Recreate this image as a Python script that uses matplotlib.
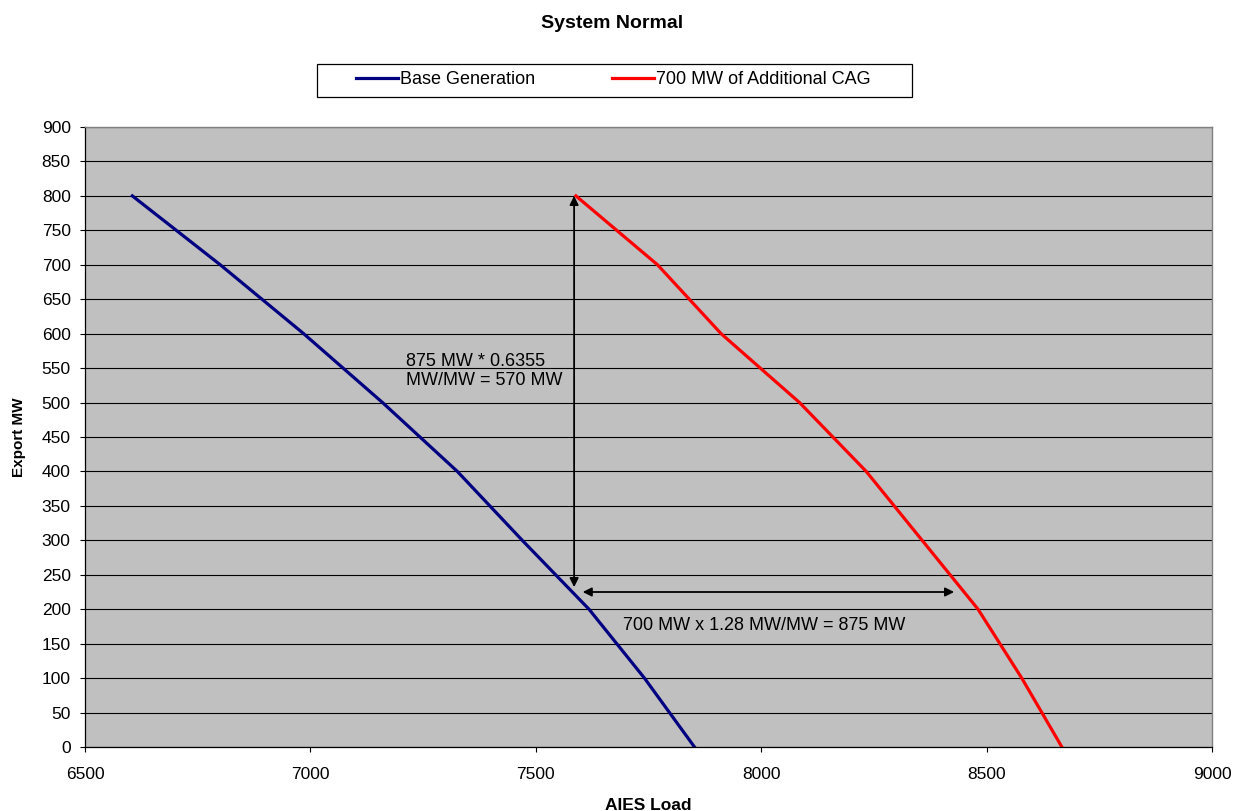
import matplotlib
matplotlib.use("Agg")
import matplotlib.pyplot as plt
from matplotlib.patches import Rectangle

# Data
base_load = [6605, 6800, 6985, 7160, 7326, 7470, 7618, 7741, 7852]
base_export = [800, 700, 600, 500, 400, 300, 200, 100, 0]
cag_load = [7589, 7770, 7911, 8085, 8233, 8357, 8481, 8578, 8667]
cag_export = [800, 700, 600, 500, 400, 300, 200, 100, 0]
series_names = ["Base Generation", "700 MW of Additional CAG"]
title = "System Normal"
xlabel = "AIES Load"
ylabel = "Export MW"
vert_arrow = (7585, 800, 232)      # x, y_top, y_bottom
horiz_arrow = (225, 7604, 8428)    # y, x_left, x_right
note1 = "875 MW * 0.6355\nMW/MW = 570 MW"
note2 = "700 MW x 1.28 MW/MW = 875 MW"

plt.rcParams['font.family'] = ['Liberation Sans', 'DejaVu Sans']

W, H = 1234, 811
fig = plt.figure(figsize=(W / 100, H / 100), dpi=100)
fig.patch.set_facecolor('white')
ax = fig.add_axes([85 / W, 1 - 747 / H, (1212 - 85) / W, (747 - 127) / H])
ax.set_facecolor('#C0C0C0')

l1, = ax.plot(base_load, base_export, color='#000080', lw=2.3, solid_joinstyle='miter', label=series_names[0])
l2, = ax.plot(cag_load, cag_export, color='#FF0000', lw=2.3, solid_joinstyle='miter', label=series_names[1])

ax.set_xlim(6500, 9000)
ax.set_ylim(0, 900)
ax.set_xticks(range(6500, 9001, 500))
ax.set_yticks(range(0, 901, 50))
ax.yaxis.grid(True, color='black', lw=0.8)
ax.set_axisbelow(True)
ax.tick_params(axis='both', direction='out', length=3.6, width=0.8, labelsize=12.5, colors='black')
ax.tick_params(axis='x', pad=10.5)
ax.tick_params(axis='y', pad=6.7)
for s in ['top', 'right']:
    ax.spines[s].set_color('#808080')
    ax.spines[s].set_linewidth(1.0)
for s in ['left', 'bottom']:
    ax.spines[s].set_color('black')
    ax.spines[s].set_linewidth(0.9)

# arrows
ax.annotate('', xy=(vert_arrow[0], vert_arrow[1]), xytext=(vert_arrow[0], vert_arrow[2]),
            arrowprops=dict(arrowstyle='<|-|>', color='black', lw=1.3, mutation_scale=13,
                            shrinkA=0, shrinkB=0))
ax.annotate('', xy=(horiz_arrow[1], horiz_arrow[0]), xytext=(horiz_arrow[2], horiz_arrow[0]),
            arrowprops=dict(arrowstyle='<|-|>', color='black', lw=1.3, mutation_scale=13,
                            shrinkA=0, shrinkB=0))

ax.text(7211, 546, note1, fontsize=13, ha='left', va='center', linespacing=1.2)
ax.text(7693, 177, note2, fontsize=13, ha='left', va='center')

fig.text(612 / W, 1 - 24 / H, title, fontsize=14, fontweight='bold', ha='center', va='center')
ax.set_xlabel(xlabel, fontsize=12.5, fontweight='bold')
ax.xaxis.set_label_coords(0.5, -(805 - 747) / 620)
ax.xaxis.label.set_va('center')
ax.set_ylabel(ylabel, fontsize=11, fontweight='bold')
ax.yaxis.set_label_coords(-(85 - 19) / 1127, 0.5)
ax.yaxis.label.set_va('center')

# legend box
fig.patches.append(Rectangle((317 / W, 1 - 97 / H), (912 - 317) / W, 33 / H,
                             transform=fig.transFigure, facecolor='white', edgecolor='black', lw=0.9))
leg = fig.legend(handles=[l1, l2], loc='center left', bbox_to_anchor=(356 / W, 1 - 80 / H),
                 ncol=2, frameon=False, fontsize=13, handlelength=2.3, handletextpad=0.12,
                 columnspacing=4.3, borderpad=0, borderaxespad=0)

fig.savefig('out.png', dpi=100)
